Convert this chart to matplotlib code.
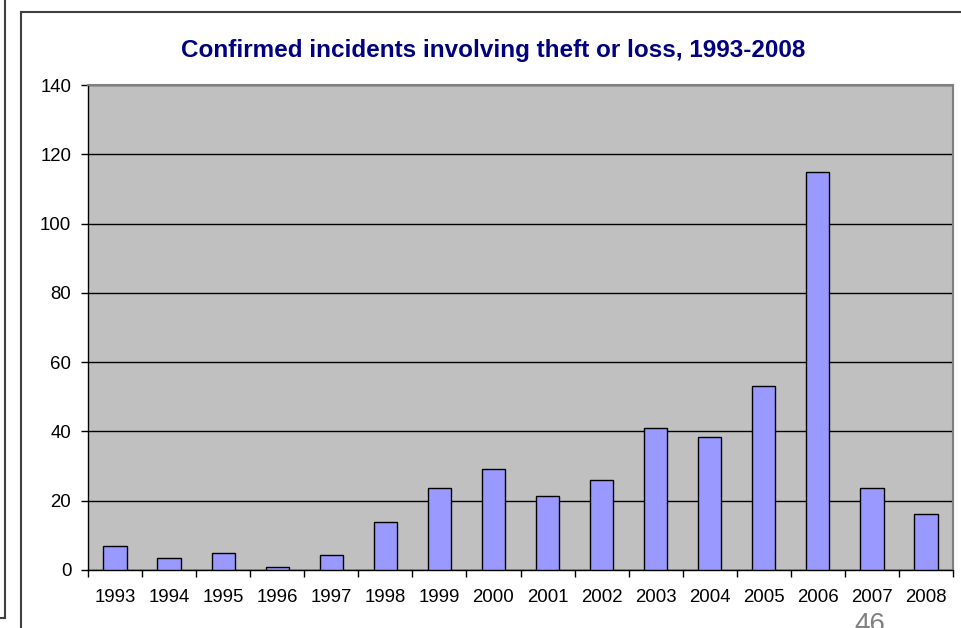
import numpy as np
import matplotlib
matplotlib.use("Agg")
import matplotlib.pyplot as plt
from matplotlib.lines import Line2D

years = ["1993", "1994", "1995", "1996", "1997", "1998", "1999", "2000",
         "2001", "2002", "2003", "2004", "2005", "2006", "2007", "2008"]
incidents = [7, 3.4, 5, 1, 4.2, 14, 23.7, 29.2, 21.3, 26, 41, 38.3, 53, 115, 23.7, 16.2]
yticks = [0, 20, 40, 60, 80, 100, 120, 140]
title = "Confirmed incidents involving theft or loss, 1993-2008"

plt.rcParams['font.family'] = ['Liberation Sans', 'DejaVu Sans']

W, H = 962, 628
fig = plt.figure(figsize=(W / 100, H / 100), dpi=100)

def fx(px):
    return px / W

def fy(py):
    return 1 - py / H

# frames of the slide screenshot
fig.add_artist(Line2D([fx(5), fx(5)], [fy(0), fy(618)], color="#404040", lw=1.5))
fig.add_artist(Line2D([fx(0), fx(5)], [fy(618), fy(618)], color="#404040", lw=1.5))
fig.add_artist(Line2D([fx(21), fx(21)], [fy(12), fy(640)], color="#404040", lw=1.5))
fig.add_artist(Line2D([fx(21), fx(970)], [fy(12), fy(12)], color="#404040", lw=1.5))

ax = fig.add_axes([fx(88), fy(570), fx(953) - fx(88), fy(85) - fy(570)])
ax.set_facecolor("#C0C0C0")

x = np.arange(len(years))
ax.bar(x, incidents, width=0.43, color="#9999FF", edgecolor="black", linewidth=1, zorder=3)

ax.set_xlim(-0.5, len(years) - 0.5)
ax.set_ylim(0, 140)
ax.set_yticks(yticks)
ax.set_yticklabels([str(v) for v in yticks], fontsize=13.4, color="black")
ax.yaxis.grid(True, color="black", linewidth=1, zorder=1)
ax.tick_params(axis="y", direction="out", length=5, width=1, pad=7)

ax.set_xticks(x)
ax.set_xticklabels(years, fontsize=13.4, color="black")
ax.set_xticks(np.arange(-0.5, len(years), 1), minor=True)
ax.tick_params(axis="x", which="major", length=0, pad=14)
ax.tick_params(axis="x", which="minor", direction="out", length=5, width=1)

for s in ["top", "right"]:
    ax.spines[s].set_color("#808080")
    ax.spines[s].set_linewidth(1.5)
for s in ["left", "bottom"]:
    ax.spines[s].set_color("black")
    ax.spines[s].set_linewidth(1)

fig.text(fx(493), fy(50), title, ha="center", va="center", fontsize=17.5,
         fontweight="bold", color="#000080")

# slide page number, cut off by the screenshot edge
fig.text(fx(870), fy(612), "46", ha="center", va="top", fontsize=20, color="#808080")

fig.savefig("out.png", dpi=100)
